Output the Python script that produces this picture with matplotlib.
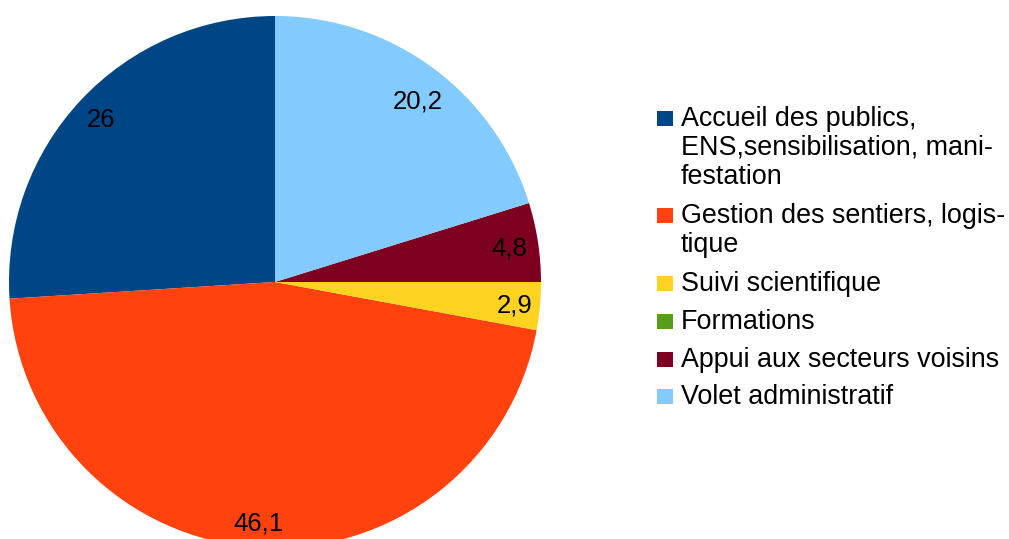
import matplotlib
matplotlib.use("Agg")
import matplotlib.pyplot as plt
import numpy as np
from matplotlib.patches import Rectangle

plt.rcParams['font.family'] = ['Liberation Sans', 'DejaVu Sans']

categories = ["Accueil des publics,\nENS,sensibilisation, mani-\nfestation",
              "Gestion des sentiers, logis-\ntique",
              "Suivi scientifique",
              "Formations",
              "Appui aux secteurs voisins",
              "Volet administratif"]
values = [26, 46.1, 2.9, 0, 4.8, 20.2]
value_labels = ["26", "46,1", "2,9", "", "4,8", "20,2"]
colors = ["#004586", "#ff420e", "#ffd320", "#579d1c", "#7e0021", "#83caff"]

W, H = 1009, 539
fig = plt.figure(figsize=(W / 100, H / 100), dpi=100)
ax = fig.add_axes([0, 0, 1, 1])

cx, cy, R = 275, H - 282, 266
wedges, _ = ax.pie(values, colors=colors, startangle=90, counterclock=True,
                   center=(cx, cy), radius=R, frame=True,
                   wedgeprops=dict(linewidth=0))
ax.set_xlim(0, W)
ax.set_ylim(0, H)
ax.set_aspect('equal')
ax.axis('off')

# small pixel nudges for label placement (dx, dy)
nudges = [(1, -2), (-2, -3), (1, -2), (0, 0), (-2, -2), (1, -12)]
for w, lab, (ndx, ndy) in zip(wedges, value_labels, nudges):
    if not lab:
        continue
    mid = np.deg2rad((w.theta1 + w.theta2) / 2)
    r = 0.9 * R
    ax.text(cx + r * np.cos(mid) + ndx, cy + r * np.sin(mid) + ndy, lab,
            ha='center', va='center', fontsize=18.5, color='black')

# legend
fs = 19.4
baselines = [[126, 155, 184], [223, 252], [291], [329], [367], [404]]
for cat, col, bls in zip(categories, colors, baselines):
    lines = cat.split("\n")
    ax.add_patch(Rectangle((657, H - bls[0]), 15.5, 15.5, facecolor=col,
                           edgecolor='none', clip_on=False))
    for line, b in zip(lines, bls):
        ax.text(681, H - b, line, ha='left', va='baseline', fontsize=fs,
                color='black')

fig.savefig("out.png", dpi=100)
